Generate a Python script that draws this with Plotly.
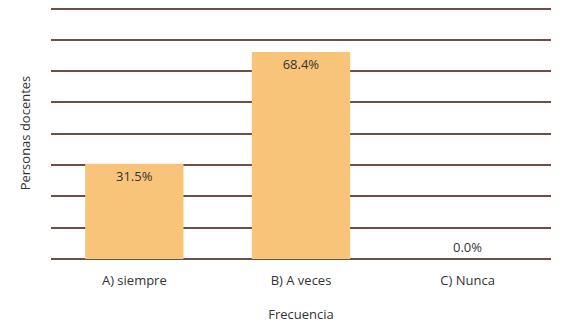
import plotly.graph_objects as go

categories = ["A) siempre", "B) A veces", "C) Nunca"]
values = [31.5, 68.4, 0.0]
labels = ["31.5%", "68.4%", "0.0%"]

grid_color = "#6e4e45"
bar_color = "#f8c47a"
text_color = "#333333"

fig = go.Figure(
    go.Bar(
        x=categories,
        y=values,
        text=labels,
        textposition=["inside", "inside", "outside"],
        insidetextanchor="end",
        textfont=dict(color=text_color, size=13),
        marker=dict(color=bar_color, line=dict(width=0)),
        width=0.59,
        cliponaxis=False,
    )
)

fig.update_layout(
    width=567,
    height=328,
    margin=dict(l=51, r=16, t=7, b=69),
    paper_bgcolor="white",
    plot_bgcolor="white",
    font=dict(family="Open Sans, Noto Sans, sans-serif", size=13, color=text_color),
    showlegend=False,
    xaxis=dict(
        title=dict(text="Frecuencia", standoff=21, font=dict(size=13)),
        showgrid=False,
        showline=False,
        ticks="",
        ticklabelstandoff=12,
        tickfont=dict(size=13),
    ),
    yaxis=dict(
        title=dict(text="Personas docentes", standoff=16, font=dict(size=13)),
        range=[0, 83.3],
        tick0=0,
        dtick=10.35,
        showticklabels=False,
        showgrid=True,
        gridcolor=grid_color,
        gridwidth=1.5,
        zeroline=True,
        zerolinecolor=grid_color,
        zerolinewidth=1.5,
        ticks="",
    ),
    bargap=0.4,
)

fig.write_html(
    "out.html",
    config={"displayModeBar": False},
    post_script="document.body.style.margin='0';",
)
